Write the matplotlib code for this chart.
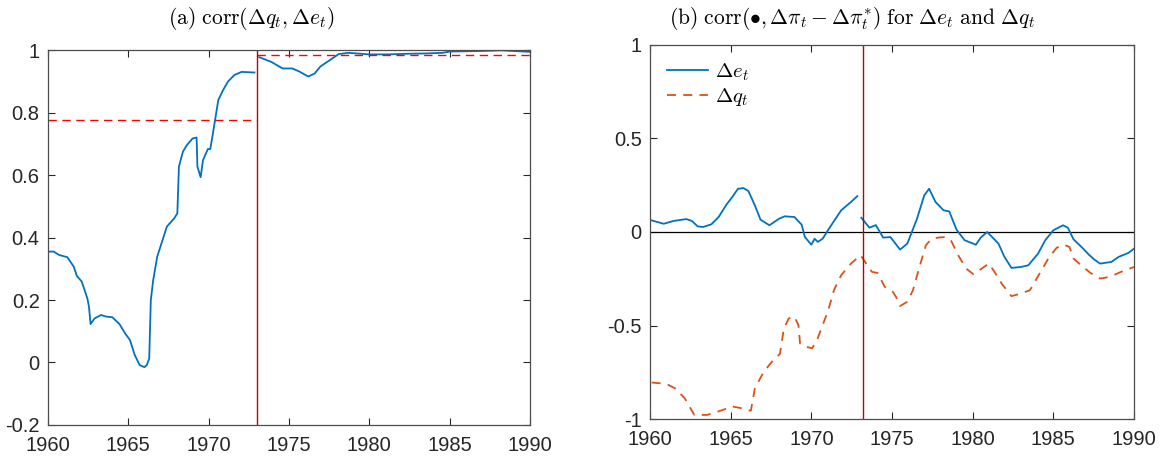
import matplotlib
matplotlib.use("Agg")
import matplotlib.pyplot as plt

plt.rcParams["font.family"] = ["Liberation Sans", "DejaVu Sans"]
plt.rcParams["mathtext.fontset"] = "cm"

# ── Panel (a): corr(dq, de) ───────────────────────────────────────────────────
a_year1 = [1960.0, 1960.35, 1960.7, 1961.2, 1961.6, 1961.8, 1962.1, 1962.45, 1962.55,
           1962.65, 1962.9, 1963.3, 1963.6, 1964.0, 1964.45, 1964.8, 1965.1, 1965.4,
           1965.7, 1966.0, 1966.15, 1966.3, 1966.4, 1966.55, 1966.8, 1967.1, 1967.4,
           1967.85, 1968.05, 1968.15, 1968.4, 1968.65, 1969.0, 1969.25, 1969.3, 1969.5,
           1969.65, 1969.95, 1970.1, 1970.25, 1970.4, 1970.6, 1970.9, 1971.2, 1971.6,
           1972.05, 1972.85]
a_corr1 = [0.355, 0.355, 0.344, 0.337, 0.307, 0.277, 0.259, 0.205, 0.179,
           0.123, 0.141, 0.152, 0.147, 0.145, 0.123, 0.093, 0.072, 0.024,
           -0.008, -0.015, -0.008, 0.013, 0.200, 0.264, 0.339, 0.387, 0.435,
           0.461, 0.477, 0.627, 0.675, 0.696, 0.717, 0.720, 0.627, 0.593,
           0.648, 0.683, 0.683, 0.728, 0.776, 0.840, 0.872, 0.899, 0.920,
           0.930, 0.928]
a_year2 = [1973.15, 1973.9, 1974.6, 1975.2, 1975.65, 1976.2, 1976.6, 1976.95, 1977.55,
           1978.1, 1978.7, 1980.0, 1981.15, 1982.35, 1983.5, 1984.55, 1985.0, 1987.0,
           1988.2, 1990.0]
a_corr2 = [0.977, 0.962, 0.941, 0.941, 0.931, 0.915, 0.925, 0.947, 0.968,
           0.987, 0.991, 0.986, 0.986, 0.988, 0.989, 0.991, 0.995, 0.997,
           0.999, 0.994]
a_mean_pre, a_mean_post = 0.776, 0.984
break_a = 1973.0

# ── Panel (b): corr(., dpi - dpi*) ────────────────────────────────────────────
e_year1 = [1960.1, 1960.85, 1961.45, 1962.25, 1962.6, 1962.95, 1963.3, 1963.8, 1964.25,
           1964.75, 1965.1, 1965.45, 1965.8, 1966.1, 1966.5, 1966.85, 1967.4, 1968.0,
           1968.35, 1968.95, 1969.4, 1969.6, 1970.0, 1970.2, 1970.4, 1970.7, 1971.05,
           1971.5, 1971.85, 1972.45, 1972.85]
e_corr1 = [0.062, 0.044, 0.059, 0.069, 0.059, 0.030, 0.027, 0.041, 0.080,
           0.148, 0.187, 0.231, 0.235, 0.219, 0.142, 0.066, 0.036, 0.071,
           0.084, 0.080, 0.039, -0.027, -0.068, -0.036, -0.053, -0.036, 0.012,
           0.071, 0.116, 0.160, 0.192]
e_year2 = [1973.1, 1973.6, 1974.0, 1974.45, 1974.9, 1975.5, 1975.95, 1976.55, 1977.0,
           1977.3, 1977.7, 1978.2, 1978.55, 1979.0, 1979.5, 1980.2, 1980.5, 1980.9,
           1981.6, 1981.95, 1982.4, 1983.0, 1983.45, 1984.05, 1984.5, 1985.0, 1985.6,
           1985.9, 1986.25, 1986.85, 1987.2, 1987.55, 1987.9, 1988.6, 1989.05, 1989.65,
           1990.0]
e_corr2 = [0.076, 0.023, 0.037, -0.030, -0.027, -0.094, -0.062, 0.071, 0.196,
           0.231, 0.160, 0.116, 0.110, 0.012, -0.044, -0.068, -0.030, 0.000,
           -0.062, -0.130, -0.192, -0.187, -0.178, -0.116, -0.044, 0.009, 0.036,
           0.023, -0.039, -0.089, -0.121, -0.148, -0.169, -0.160, -0.133, -0.112,
           -0.089]
q_year = [1960.1, 1961.0, 1961.55, 1962.15, 1962.5, 1962.75, 1963.55, 1964.4, 1965.1,
          1965.65, 1966.25, 1966.5, 1967.05, 1967.65, 1968.05, 1968.3, 1968.6, 1968.95,
          1969.2, 1969.3, 1969.65, 1970.05, 1970.35, 1970.7, 1971.05, 1971.4, 1971.85,
          1972.45, 1973.05, 1973.4, 1973.75, 1974.1, 1974.55, 1975.05, 1975.25, 1975.5,
          1975.95, 1976.3, 1976.7, 1977.1, 1977.4, 1977.85, 1978.3, 1978.65, 1979.1,
          1979.6, 1980.05, 1980.55, 1981.0, 1981.35, 1981.8, 1982.4, 1983.0, 1983.55,
          1984.15, 1984.75, 1985.2, 1985.65, 1986.0, 1986.25, 1986.85, 1987.3, 1987.9,
          1988.5, 1989.2, 1990.0]
q_corr = [-0.805, -0.812, -0.836, -0.889, -0.942, -0.978, -0.978, -0.955, -0.933,
          -0.942, -0.956, -0.836, -0.747, -0.684, -0.652, -0.516, -0.462, -0.453,
          -0.498, -0.596, -0.613, -0.622, -0.578, -0.498, -0.418, -0.311, -0.231,
          -0.169, -0.124, -0.169, -0.213, -0.219, -0.293, -0.320, -0.347, -0.396,
          -0.373, -0.311, -0.187, -0.071, -0.041, -0.030, -0.027, -0.044, -0.124,
          -0.196, -0.226, -0.196, -0.169, -0.213, -0.276, -0.343, -0.329, -0.311,
          -0.222, -0.133, -0.085, -0.068, -0.080, -0.142, -0.187, -0.219, -0.249,
          -0.240, -0.213, -0.187]
break_b = 1973.2

blue = "#0072BD"
orange = "#D95319"
years_ticks = [1960, 1965, 1970, 1975, 1980, 1985, 1990]

fig = plt.figure(figsize=(11.62, 4.61), dpi=100)
ax1 = fig.add_axes([0.0413, 0.0781, 0.4148, 0.8134])
ax2 = fig.add_axes([0.5594, 0.0911, 0.4165, 0.8113])


def style(ax):
    ax.tick_params(direction="in", top=True, right=True, labelsize=14.5,
                   length=5, width=0.8, colors="#262626")
    ax.tick_params(axis="x", pad=8)
    ax.tick_params(axis="y", pad=6)
    for s in ax.spines.values():
        s.set_color("#4d4d4d")
        s.set_linewidth(0.9)


# panel a
ax1.plot(a_year1, a_corr1, color=blue, lw=1.3)
ax1.plot(a_year2, a_corr2, color=blue, lw=1.3)
ax1.plot([1960, break_a], [a_mean_pre] * 2, color="red", ls=(0, (6, 4)), lw=1.0)
ax1.plot([break_a, 1990], [a_mean_post] * 2, color="red", ls=(0, (6, 4)), lw=1.0)
ax1.axvline(break_a, color="#c00000", lw=1.0)
ax1.set_xlim(1960, 1990)
ax1.set_ylim(-0.2, 1)
ax1.set_xticks(years_ticks)
ax1.set_yticks([-0.2, 0, 0.2, 0.4, 0.6, 0.8, 1])
ax1.set_yticklabels(["-0.2", "0", "0.2", "0.4", "0.6", "0.8", "1"])
ax1.text(0.421, 1.085, r"$\mathrm{(a)\ corr}(\Delta q_t, \Delta e_t)$", fontsize=15.5,
         transform=ax1.transAxes, ha="center", va="center")
style(ax1)

# panel b
ax2.axhline(0, color="black", lw=0.9)
ax2.plot(e_year1, e_corr1, color=blue, lw=1.3, label=r"$\Delta e_t$")
ax2.plot(e_year2, e_corr2, color=blue, lw=1.3)
ax2.plot(q_year, q_corr, color=orange, lw=1.3, ls=(0, (5, 4)), label=r"$\Delta q_t$")
ax2.axvline(break_b, color="#c00000", lw=1.0)
ax2.set_xlim(1960, 1990)
ax2.set_ylim(-1, 1)
ax2.set_xticks(years_ticks)
ax2.set_yticks([-1, -0.5, 0, 0.5, 1])
ax2.set_yticklabels(["-1", "-0.5", "0", "0.5", "1"])
ax2.text(0.417, 1.072,
         r"$\mathrm{(b)\ corr}(\bullet, \Delta\pi_t - \Delta\pi_t^{*})\ \mathrm{for}\ \Delta e_t\ \mathrm{and}\ \Delta q_t$",
         fontsize=15.5, transform=ax2.transAxes, ha="center", va="center")
ax2.legend(loc="upper left", frameon=False, fontsize=15, handlelength=2.0,
           handletextpad=0.3, labelspacing=0.15, borderaxespad=0.4)
style(ax2)

fig.savefig("out.png", dpi=100)
